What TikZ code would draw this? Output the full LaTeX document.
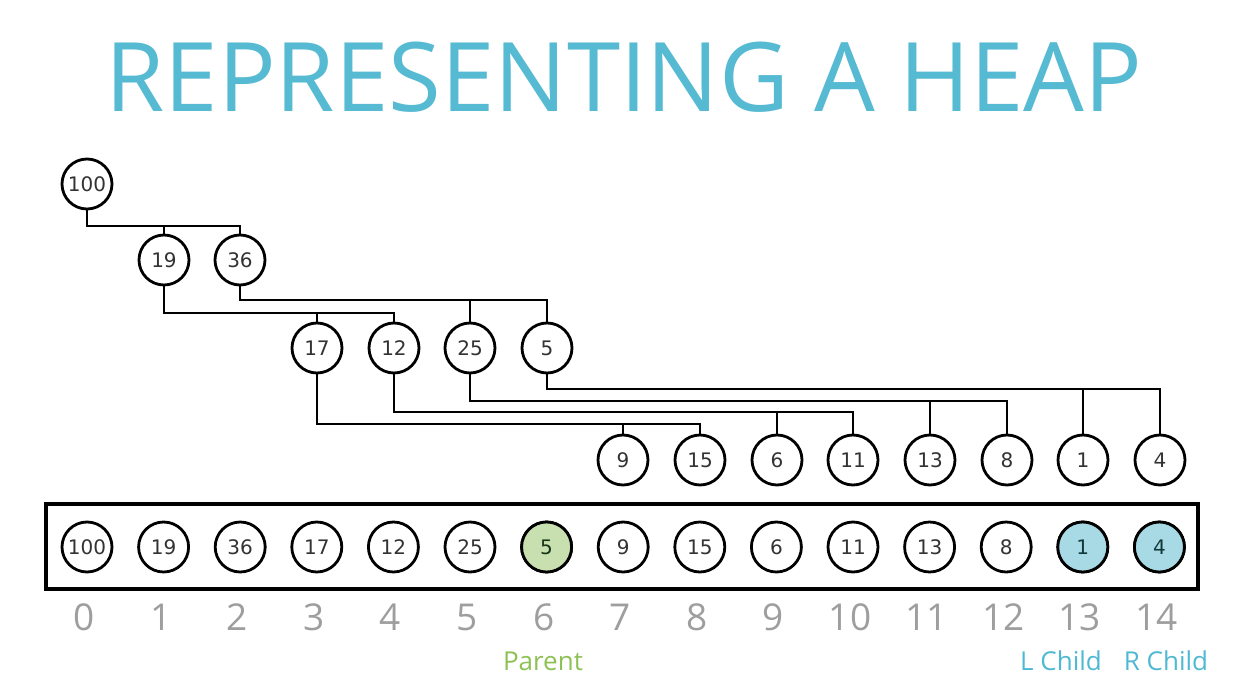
\documentclass[tikz,border=0pt]{standalone}
\usepackage{fontspec}
\setmainfont{Open Sans}
\newfontfamily\numfont{DejaVu Sans}
\usetikzlibrary{calc}

\definecolor{titleblue}{HTML}{56BAD2}
\definecolor{idxgray}{HTML}{9E9E9E}
\definecolor{parentgreen}{HTML}{8DC153}
\definecolor{childblue}{HTML}{4FB9D3}
\definecolor{greenfill}{HTML}{C8E0B0}
\definecolor{bluefill}{HTML}{A8DAE6}
\definecolor{numgray}{HTML}{333333}

\tikzset{
  heapnode/.style={circle, draw=black, line width=2.8pt, fill=white,
    minimum size=50pt, inner sep=0pt, text=numgray,
    font=\numfont\fontsize{20pt}{20pt}\selectfont},
  link/.style={draw=black, line width=2.8pt},
  idx/.style={text=idxgray, font=\fontsize{37pt}{37pt}\selectfont},
  tag/.style={font=\fontsize{26pt}{26pt}\selectfont}
}

\begin{document}
\begin{tikzpicture}[x=1pt, y=-1pt]
\useasboundingbox (0,0) rectangle (1248,698);

% title
\node[text=titleblue, font=\fontsize{96pt}{96pt}\selectfont] (title) at (624,77) {REPRESENTING A HEAP};

% tree nodes: level rows
\node[heapnode] (t0)  at (87,184)   {100};
\node[heapnode] (t1)  at (164,260)  {19};
\node[heapnode] (t2)  at (240,260)  {36};
\node[heapnode] (t3)  at (317,348)  {17};
\node[heapnode] (t4)  at (394,348)  {12};
\node[heapnode] (t5)  at (470,348)  {25};
\node[heapnode] (t6)  at (547,348)  {5};
\node[heapnode] (t7)  at (623,460)  {9};
\node[heapnode] (t8)  at (700,460)  {15};
\node[heapnode] (t9)  at (777,460)  {6};
\node[heapnode] (t10) at (853,460)  {11};
\node[heapnode] (t11) at (930,460)  {13};
\node[heapnode] (t12) at (1007,460) {8};
\node[heapnode] (t13) at (1083,460) {1};
\node[heapnode] (t14) at (1160,460) {4};

% bus heights for each parent
\coordinate (b0) at (0,226);
\coordinate (b1) at (0,313);
\coordinate (b2) at (0,300);
\coordinate (b3) at (0,424);
\coordinate (b4) at (0,412);
\coordinate (b5) at (0,401);
\coordinate (b6) at (0,389);

\foreach \p/\l/\r in {0/1/2, 1/3/4, 2/5/6, 3/7/8, 4/9/10, 5/11/12, 6/13/14} {
  \draw[link, line cap=rect] (t\p.south) |- (t\r.north |- b\p) -- (t\r.north);
  \draw[link] (t\l.north |- b\p) -- (t\l.north);
}

% array
\node[draw=black, line width=3.2pt, minimum width=1152pt, minimum height=85pt, inner sep=0pt] (arr) at (622,546.5) {};
\foreach \v [count=\i from 0] in {100,19,36,17,12,25,5,9,15,6,11,13,8,1,4} {
  \node[heapnode] (a\i) at ({87+76.6*\i},547) {\v};
  \node[idx] (i\i) at ({84+76.6*\i},617) {\i};
}
\node[heapnode, fill=greenfill, text=numgray!80!green!60!black] at (a6) {5};
\node[heapnode, fill=bluefill, text=numgray!70!cyan!50!black] at (a13) {1};
\node[heapnode, fill=bluefill, text=numgray!70!cyan!50!black] at (a14) {4};

% role labels
\node[tag, text=parentgreen] (parent) at (543,661) {Parent};
\node[tag, text=childblue] (lchild) at (1061,661) {L Child};
\node[tag, text=childblue] (rchild) at (1166,661) {R Child};
\end{tikzpicture}
\end{document}
